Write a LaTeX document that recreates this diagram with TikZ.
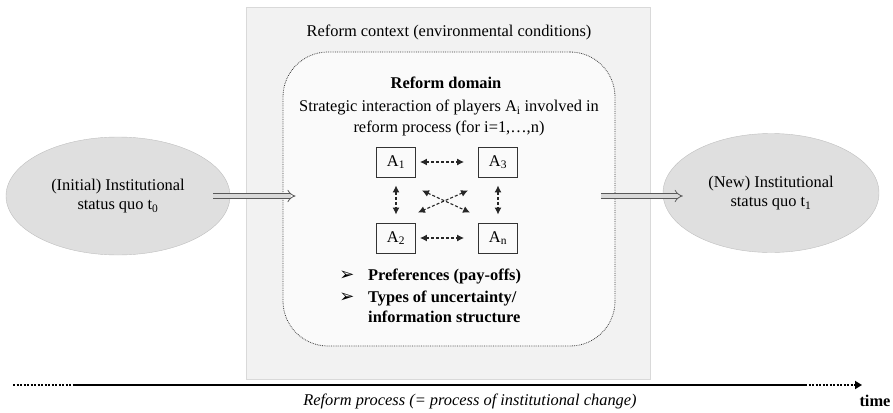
\documentclass[tikz,border=0pt]{standalone}
\usepackage{fontspec}
\setmainfont{Liberation Serif}
\newfontfamily\dingfont{DejaVu Sans}
\usepackage{tikz}
\usetikzlibrary{arrows.meta,shapes.geometric,positioning}

\begin{document}
\begin{tikzpicture}[x=1pt, y=-1pt,
  every node/.style={font=\fontsize{16.4}{19}\selectfont},
  status/.style={ellipse, draw=gray!50, fill=gray!25, align=center, inner sep=0pt,
    minimum width=224pt, minimum height=118pt},
  player/.style={draw=black!80, line width=0.9pt, fill=gray!4, inner sep=0pt,
    minimum width=39pt, minimum height=30pt},
  biarrow/.style={{Latex[length=7pt,width=7pt]}-{Latex[length=7pt,width=7pt]},
    dash pattern=on 3pt off 2pt, line width=1.1pt, black!85},
  shiftarrow/.style={double=gray!30, double distance=3.5pt, line width=0.8pt,
    draw=black!65, -{Implies}},
  item/.style={anchor=base west, inner sep=0pt, font=\fontsize{16.4}{19}\selectfont\bfseries},
]
  \useasboundingbox (0,0) rectangle (893,412);

  % reform context and reform domain
  \node[draw=gray!30, fill=gray!10, inner sep=0pt, minimum width=404pt, minimum height=372pt] (ctx) at (448,193) {};
  \node (ctxlabel) at (449,32) {Reform context (environmental conditions)};
  \node[draw=black!75, densely dotted, line width=0.8pt, rounded corners=45pt, fill=gray!4,
    minimum width=332pt, minimum height=294pt] (dom) at (449,199) {};
  \node[font=\fontsize{16.4}{19}\selectfont\bfseries] (domtitle) at (446,83) {Reform domain};
  \node[align=center, font=\fontsize{16.4}{21}\selectfont] (domtext) at (449,118)
    {Strategic interaction of players A\textsubscript{i} involved in\\reform process (for i=1,…,n)};

  % players
  \foreach \name/\x/\y/\sub in {A1/396/162/1, A3/498/162/3, A2/396/238/2, An/498/238/n} {
    \node[player] (\name) at (\x,\y) {A\textsubscript{\sub}};
  }
  \draw[biarrow, shorten <=4pt, shorten >=14pt] (A1) -- (A3);
  \draw[biarrow, shorten <=4pt, shorten >=14pt] (A2) -- (An);
  \draw[biarrow, shorten <=8pt, shorten >=8pt] (A1) -- (A2);
  \draw[biarrow, shorten <=8pt, shorten >=8pt] (A3) -- (An);
  \draw[biarrow] ([shift={(6,13)}]A1.south east) -- ([shift={(-8,-10)}]An.north west);
  \draw[biarrow] ([shift={(-10,13)}]A3.south west) -- ([shift={(2,-10)}]A2.north east);

  % payoffs and information
  \foreach \y in {280,302} {
    \node[anchor=base, font=\fontsize{18}{20}\selectfont\dingfont] at (347,\y) {➢};
  }
  \node[item] (pref) at (368,280) {Preferences (pay-offs)};
  \node[item] (types) at (368,302) {Types of uncertainty/};
  \node[item] (info) at (368,322) {information structure};

  % status quo before and after
  \node[status] (init) at (118,196) {(Initial) Institutional\\status quo t\textsubscript{0}};
  \node[status, minimum width=216pt, minimum height=119pt] (new) at (771,193) {(New) Institutional\\status quo t\textsubscript{1}};
  \draw[shiftarrow, shorten <=-17pt, shorten >=-13pt] (init.east) -- (dom.west |- init.east);
  \draw[shiftarrow, shorten <=-14pt, shorten >=-20pt] (dom.east |- init.east) -- (new.west |- init.east);

  % time axis
  \coordinate (t0) at (13,385);
  \coordinate (t1) at (73,385);
  \coordinate (t2) at (805,385);
  \coordinate (t3) at (862,385);
  \draw[line width=2.2pt, dash pattern=on 2pt off 1.5pt] (t0) -- (t1);
  \draw[line width=2.2pt] (t1) -- (t2);
  \draw[line width=1.8pt, dash pattern=on 2pt off 1.5pt, -{Triangle[length=7pt,width=8pt]}] (t2) -- (t3);
  \node[font=\fontsize{16.4}{19}\selectfont\itshape] (proc) at (470,401) {Reform process (= process of institutional change)};
  \node[font=\fontsize{16.4}{19}\selectfont\bfseries] (time) at (875,401) {time};
\end{tikzpicture}
\end{document}
